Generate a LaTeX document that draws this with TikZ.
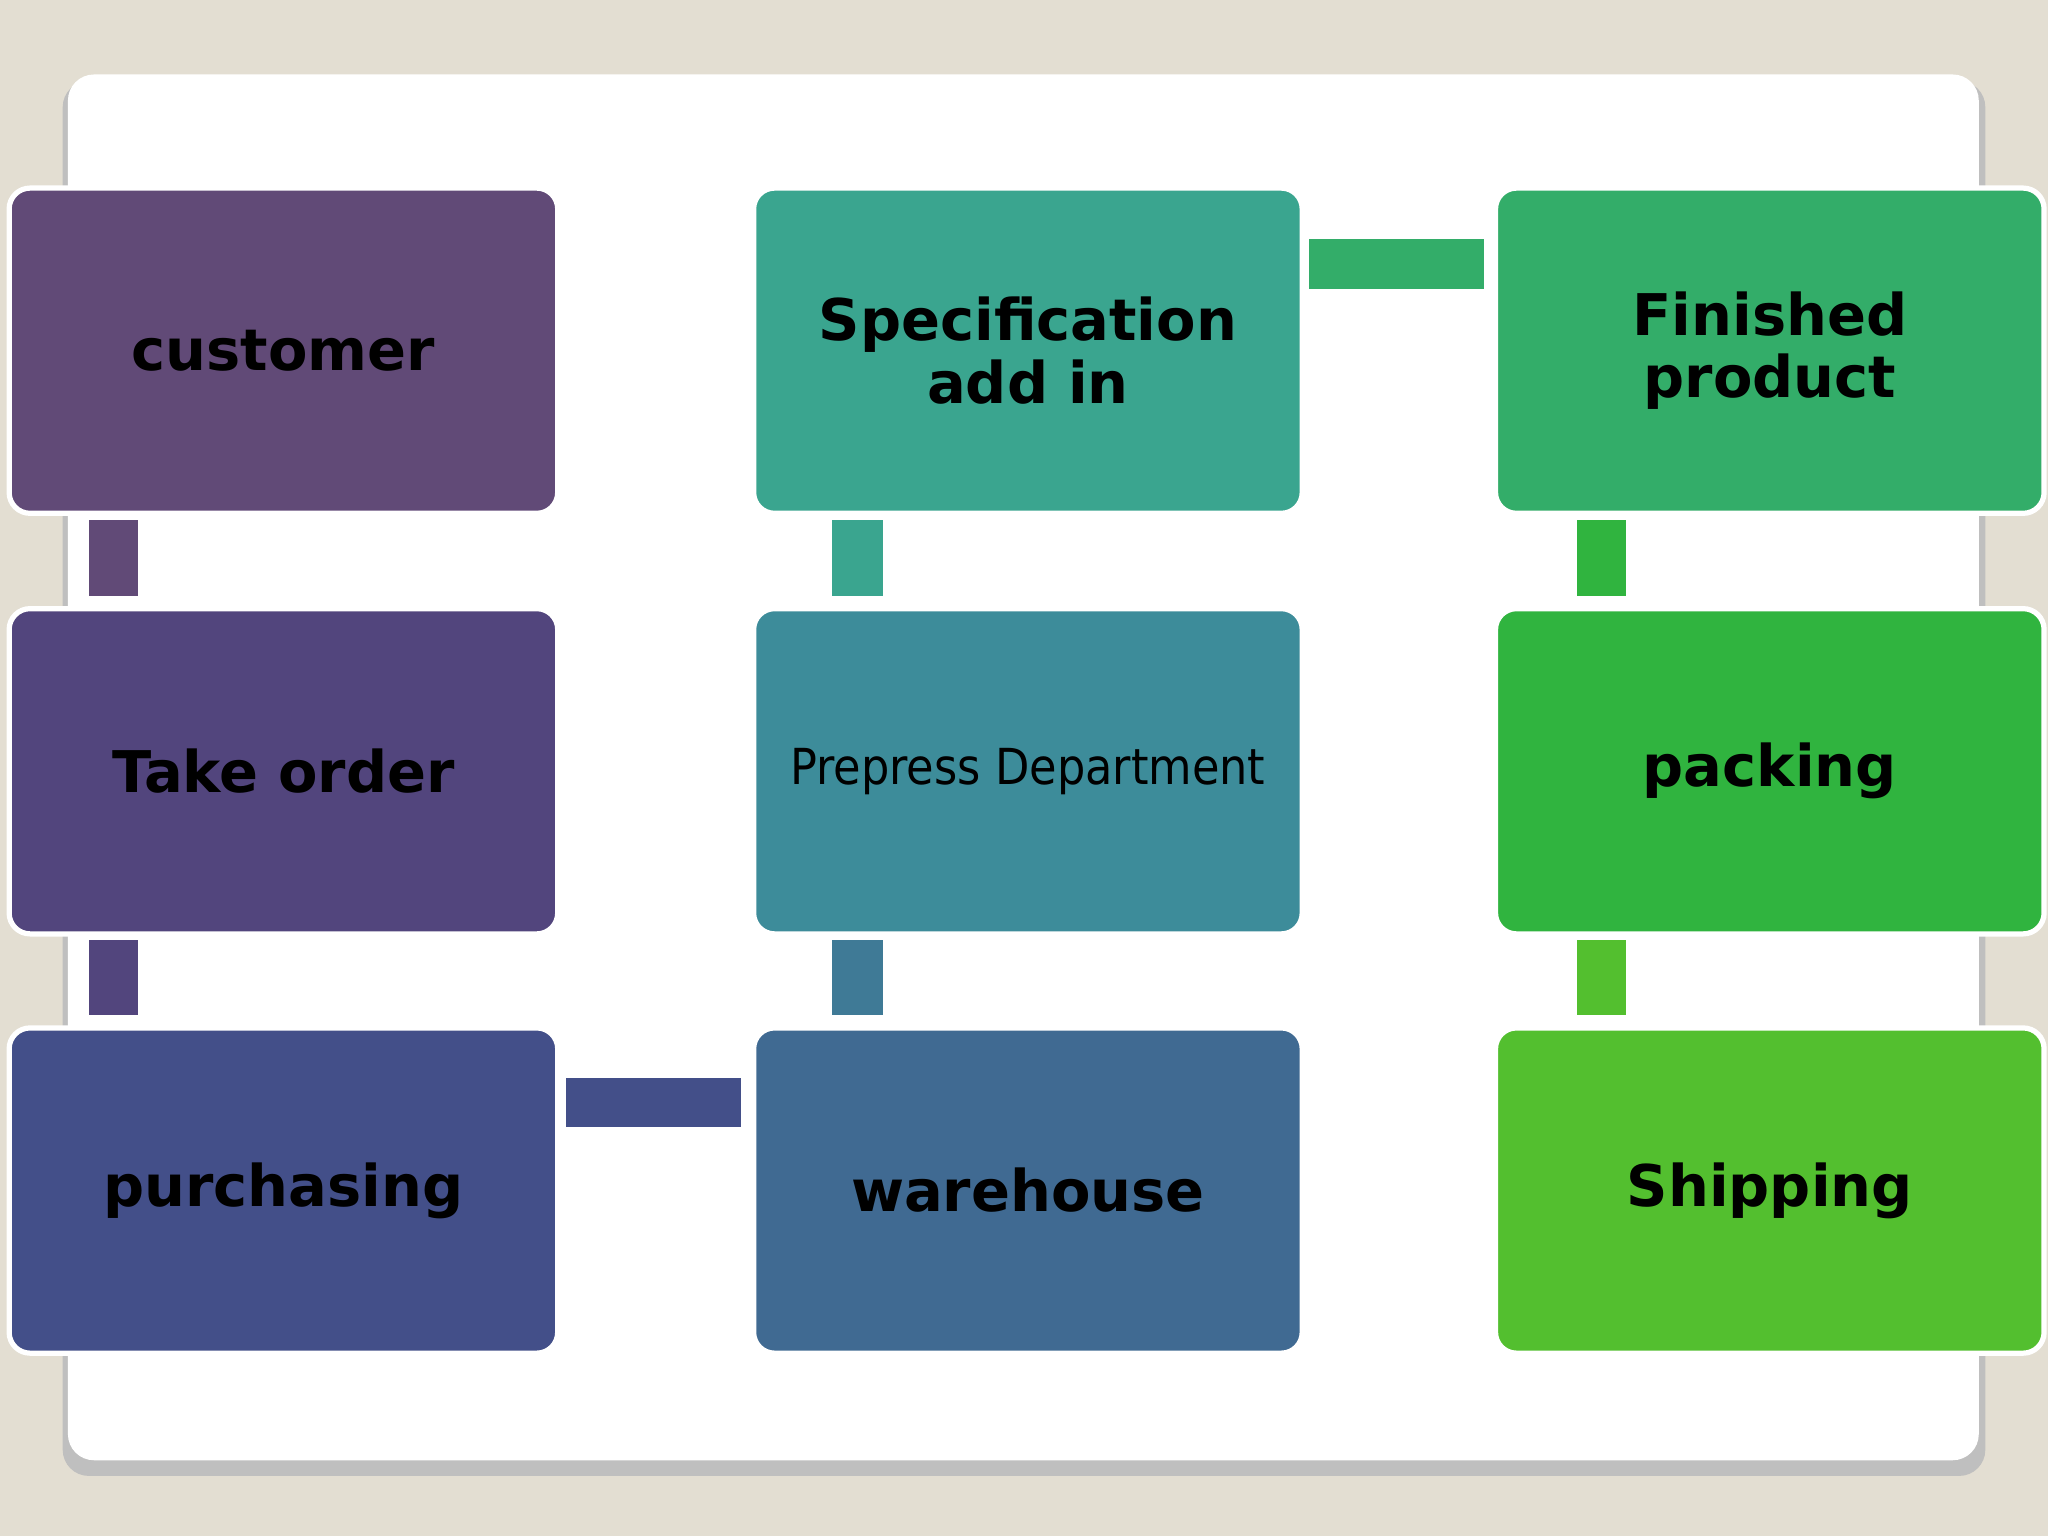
\documentclass[tikz,border=0pt]{standalone}
\usepackage{fontspec}
\setmainfont{DejaVu Sans}
\newfontfamily\condf{DejaVu Sans Condensed}
\begin{document}
\begin{tikzpicture}[x=1pt,y=-1pt,
  box/.style={draw=white,line width=4pt,rounded corners=16pt,minimum width=420pt,minimum height=249pt,anchor=north west,inner sep=0pt,align=center,font=\fontsize{44}{48}\selectfont\bfseries},
  link/.style={draw=none}]
\definecolor{bg}{HTML}{E3DED2}
\definecolor{c1}{HTML}{614A77}\definecolor{c2}{HTML}{52457D}\definecolor{c3}{HTML}{434F89}
\definecolor{c4}{HTML}{3AA58F}\definecolor{c5}{HTML}{3D8C9A}\definecolor{c6}{HTML}{406A92}
\definecolor{c7}{HTML}{33AD69}\definecolor{c8}{HTML}{30B43F}\definecolor{c9}{HTML}{53BF2F}
\definecolor{c10}{HTML}{3F7A96}
\fill[bg] (0,0) rectangle (1568,1176);
\useasboundingbox (0,0) rectangle (1568,1176);
\fill[black!25,rounded corners=20pt] (48,62) rectangle (1520,1130);
\fill[white,rounded corners=20pt] (52,57) rectangle (1515,1118);
\node[box,fill=c1] (a) at (5,142) {customer};
\node[box,fill=c2] (b) at (5,464) {Take order};
\node[box,fill=c3] (c) at (5,785) {purchasing};
\node[box,fill=c4] (d) at (575,142) {Specification\\add in};
\node[box,fill=c5,font=\condf\fontsize{38}{42}\selectfont] (e) at (575,464) {Prepress Department};
\node[box,fill=c6] (f) at (575,785) {warehouse};
\node[box,fill=c7] (g) at (1143,142) {Finished\\product};
\node[box,fill=c8] (h) at (1143,464) {packing};
\node[box,fill=c9] (i) at (1143,785) {Shipping};
\fill[c1] (68,398) rectangle (106,456);
\fill[c2] (68,720) rectangle (106,777);
\fill[c4] (637,398) rectangle (676,456);
\fill[c10] (637,720) rectangle (676,777);
\fill[c8] (1207,398) rectangle (1245,456);
\fill[c9] (1207,720) rectangle (1245,777);
\fill[c7] (1002,183) rectangle (1136,221);
\fill[c3] (433,825) rectangle (567,863);
\end{tikzpicture}
\end{document}
